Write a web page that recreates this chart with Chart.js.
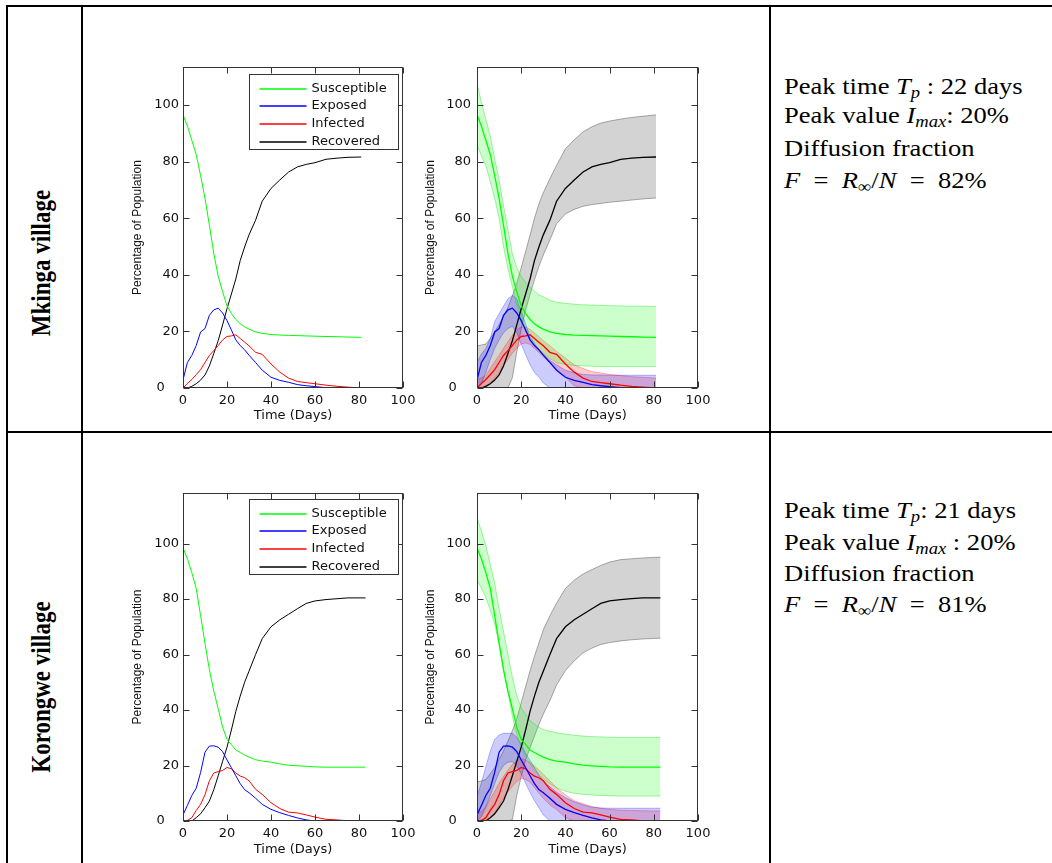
<!DOCTYPE html>
<html>
<head>
<meta charset="utf-8">
<script src="https://cdn.jsdelivr.net/npm/chart.js@4.4.1/dist/chart.umd.min.js"></script>
<style>
  body { margin: 0; background: #fff; width: 1052px; height: 863px; overflow: hidden; position: relative; }
  .ln { position: absolute; background: #000; }
  canvas { position: absolute; }
  .vlab { position: absolute; font: bold 23px "Liberation Serif", serif; white-space: nowrap; line-height: 1;
          transform: translate(-50%, -50%) rotate(-90deg) scaleY(1.16); }
  .txt { position: absolute; left: 784px; font: 22.5px "Liberation Serif", serif; white-space: nowrap; line-height: 1;
         transform: scaleX(1.18); transform-origin: 0 0; }
  .txt sub { font-size: 70%; vertical-align: -0.25em; line-height: 0; }
</style>
</head>
<body>
<div class="ln" style="left:6px;top:5px;width:1046px;height:2px"></div>
<div class="ln" style="left:6px;top:431px;width:1046px;height:2px"></div>
<div class="ln" style="left:6px;top:5px;width:2px;height:858px"></div>
<div class="ln" style="left:81px;top:5px;width:2px;height:858px"></div>
<div class="ln" style="left:769px;top:5px;width:2px;height:858px"></div>

<div class="vlab" style="left:40.5px;top:262.5px">Mkinga village</div>
<div class="vlab" style="left:40.5px;top:687px">Korongwe village</div>

<div class="txt" style="top:76px">Peak time <i>T<sub>p</sub></i> : 22 days</div>
<div class="txt" style="top:105px">Peak value <i>I<sub>max</sub></i>: 20%</div>
<div class="txt" style="top:138px">Diffusion fraction</div>
<div class="txt" style="top:170px"><i>F</i>&ensp;=&ensp;<i>R</i><sub>∞</sub>/<i>N</i>&ensp;=&ensp;82%</div>

<div class="txt" style="top:500px">Peak time <i>T<sub>p</sub></i>: 21 days</div>
<div class="txt" style="top:532px">Peak value <i>I<sub>max</sub></i> : 20%</div>
<div class="txt" style="top:563px">Diffusion fraction</div>
<div class="txt" style="top:594px"><i>F</i>&ensp;=&ensp;<i>R</i><sub>∞</sub>/<i>N</i>&ensp;=&ensp;81%</div>

<canvas id="c1" width="300" height="363" style="left:120px;top:60px"></canvas>
<canvas id="c2" width="300" height="363" style="left:415px;top:60px"></canvas>
<canvas id="c3" width="300" height="377" style="left:120px;top:480px"></canvas>
<canvas id="c4" width="300" height="377" style="left:415px;top:480px"></canvas>

<script>
// Mkinga village (days 0..81)
const timeMk = [0, 2, 4, 6, 8, 10, 12, 14, 16, 18, 20, 22, 24, 26, 28, 30, 33, 36, 40, 44, 48, 52, 56, 60, 65, 70, 75, 81];
const susMk = [96.5, 92.5, 87.5, 82.5, 75, 67, 57.5, 47.5, 39.5, 34, 29, 26.3, 24.2, 22.7, 21.6, 20.8, 19.8, 19.3, 18.9, 18.7, 18.6, 18.5, 18.4, 18.3, 18.2, 18.1, 18, 17.9];
const expMk = [2.9, 9, 11.5, 15, 19.8, 21, 25.7, 27.6, 28.2, 26.5, 23.8, 20.5, 17, 15, 13.5, 11.6, 9, 6.3, 3.8, 2.7, 2, 1.2, 0.8, 0.5, 0.1, 0, 0, 0];
const infMk = [0, 1.6, 3, 4.7, 6.5, 9, 11.5, 13.2, 15, 17, 18.2, 18.4, 18.8, 17.5, 16.2, 14.9, 12.6, 11.9, 8.5, 5.6, 3.5, 2.3, 1.9, 1.5, 1, 0.6, 0.3, 0];
const recMk = [0, 0, 0.6, 1.5, 2.8, 4.6, 7.8, 12.2, 16.7, 22.3, 28, 33.2, 38.5, 45, 49.8, 54.1, 59.3, 66, 70.5, 73.5, 76.3, 78.1, 79, 79.6, 80.8, 81.2, 81.5, 81.6];
const susMkHi = [107.6, 101, 95, 89, 81, 73.5, 64.5, 56, 47.3, 42.5, 39.4, 37.3, 35.6, 34.2, 32.9, 32.2, 31, 30.3, 29.9, 29.6, 29.4, 29.3, 29.2, 29.1, 29, 28.9, 28.9, 28.8];
const susMkLo = [85.9, 82, 78.5, 73, 67, 60, 50, 42, 36, 29.2, 24.5, 20.2, 17, 15.2, 13.5, 12.2, 10.4, 9, 8.3, 8, 7.8, 7.7, 7.6, 7.6, 7.6, 7.6, 7.6, 7.6];
const expMkHi = [9, 12, 14, 17.5, 23.5, 26.2, 29, 31.5, 32.7, 31.5, 27, 22.7, 18, 15.8, 13.5, 12, 9.7, 8.2, 6.3, 5.4, 4.8, 4.6, 4.6, 4.5, 4.5, 4.5, 4.5, 4.5];
const expMkLo = [0, 1.5, 5.5, 10, 14, 17, 19.5, 21, 21.8, 19.5, 15.5, 11.8, 8.2, 5.5, 3.8, 1.8, 0, 0, 0, 0, 0, 0, 0, 0, 0, 0, 0, 0];
const infMkHi = [3, 3.6, 4.4, 7, 9.3, 11.5, 14, 16.3, 18.6, 20.6, 21.6, 21.6, 20.7, 19.5, 18.1, 16.7, 14.9, 13, 10.6, 8.2, 6.9, 5.8, 5.3, 4.8, 4.4, 4, 3.8, 3.5];
const infMkLo = [0, 0.3, 0.8, 1.8, 3.4, 5.5, 8.1, 10, 12.3, 14, 15.6, 15.9, 15.4, 14, 12.5, 11, 8.9, 6.6, 3.8, 0.8, 0, 0, 0, 0, 0, 0, 0, 0];
const recMkHi = [14.9, 15.2, 15.5, 17.5, 19.8, 22.5, 25.2, 28.5, 32.5, 37, 42.5, 48.2, 54, 60, 65, 69, 74, 78.6, 84.5, 87.7, 90.5, 92.3, 93.6, 94.3, 95, 95.6, 96, 96.5];
const recMkLo = [0, 0, 0, 0, 0, 0, 0, 0, 3.6, 12.7, 20.9, 27.5, 33, 38.2, 42.9, 47, 52.3, 58, 61.5, 63.1, 64.2, 64.8, 65.2, 65.6, 66, 66.4, 66.8, 67.1];

// Korongwe village (days 0..83)
const timeKo = [0, 2, 4, 6, 8, 10, 12, 14, 16, 18, 20, 22, 24, 26, 28, 30, 33, 36, 40, 44, 48, 52, 56, 60, 65, 70, 75, 83];
const susKo = [98.4, 94.5, 89.5, 83.8, 74, 64, 54.5, 46.8, 40.5, 33.8, 29.4, 27.5, 25.6, 24.7, 23.8, 23, 22.1, 21.6, 21.2, 20.6, 20.1, 19.9, 19.7, 19.5, 19.4, 19.4, 19.4, 19.4];
const expKo = [2.2, 5.6, 9.2, 11.8, 17.5, 24.8, 27, 27.1, 26.6, 25, 22, 19.2, 16.3, 13.5, 11.3, 10.2, 8.2, 6, 4.2, 3, 2, 1.1, 0.4, 0, 0, 0, 0, 0];
const infKo = [0, 0.2, 1.2, 3.8, 6, 9.5, 14.5, 17.3, 17.8, 18.2, 19.3, 18.8, 17.3, 16.2, 15.6, 14.5, 11.4, 9.6, 6.6, 4.5, 3.2, 2.9, 2.2, 1.4, 0.6, 0.4, 0, 0];
const recKo = [0, 0, 0, 1.2, 2.6, 4.8, 7.2, 11.3, 16.3, 21.5, 26.6, 32.8, 39.5, 45, 50, 54, 60, 65.7, 70, 72.5, 74.5, 76.5, 78.4, 79.3, 79.8, 80.1, 80.4, 80.4];
const susKoHi = [109.3, 104.5, 99.2, 92.6, 85.6, 76.5, 68.2, 60, 51.8, 45.2, 40.8, 38.3, 36.2, 34.9, 33.8, 33, 32.3, 31.8, 31.3, 30.9, 30.6, 30.4, 30.3, 30.2, 30.1, 30.1, 30.1, 30.1];
const susKoLo = [87, 83.8, 80.6, 76, 71, 63.6, 54.5, 46.3, 37.8, 31.3, 26.7, 23.2, 20.6, 18.3, 16.5, 15.2, 13.4, 12, 10.7, 10, 9.6, 9.4, 9.2, 9.1, 9, 9, 9, 9];
const expKoHi = [8.8, 13.8, 19.5, 25.2, 29.4, 31, 31.6, 31.6, 31.6, 30.2, 27.6, 24.4, 21.9, 19.3, 16.6, 14.3, 12.3, 10.4, 8.4, 6.9, 5.8, 5, 4.7, 4.6, 4.6, 4.6, 4.6, 4.6];
const expKoLo = [0, 1.5, 5, 9.2, 13.5, 17.5, 20, 21.2, 21.4, 19.8, 17, 13.6, 10.3, 7.3, 4.8, 2.2, 0, 0, 0, 0, 0, 0, 0, 0, 0, 0, 0, 0];
const infKoHi = [2.8, 3.5, 5, 8, 10.8, 13.6, 16, 18.3, 20.4, 21.7, 22.5, 22, 21, 19.8, 18.4, 16.8, 14.5, 12, 9.4, 7.3, 6.2, 5.2, 4.6, 4.2, 3.9, 3.8, 3.7, 3.6];
const infKoLo = [0, 0, 0.4, 1, 2.8, 5.6, 8.4, 10.5, 12.5, 14.2, 15.4, 15, 14, 12, 10, 8.2, 5.8, 4.1, 1.2, 0, 0, 0, 0, 0, 0, 0, 0, 0];
const recKoHi = [14.2, 14.4, 15, 17, 19.2, 22.2, 25.3, 28.8, 32.5, 36.8, 42.6, 48.4, 54.1, 59.4, 64.1, 68.9, 74, 78.5, 83.8, 86.8, 89, 90.6, 92.1, 93.3, 94.2, 94.5, 94.8, 95.1];
const recKoLo = [0, 0, 0, 0, 0, 0, 0, 0, 0.5, 9.2, 16, 22, 26.4, 30.6, 34.8, 38.5, 43.4, 49, 54.2, 57.7, 60.6, 62.3, 63.6, 64.3, 64.9, 65.3, 65.6, 65.9];

const xTicks = [0, 20, 40, 60, 80, 100];
const names = ['Susceptible', 'Exposed', 'Infected', 'Recovered'];
const lineColors = ['#00ff00', '#0000ff', '#ff0000', '#000000'];
const bandFill = ['rgba(0,255,0,0.2)', 'rgba(0,0,255,0.2)', 'rgba(255,0,0,0.2)', 'rgba(120,120,120,0.33)'];
const bandEdge = ['rgba(0,220,0,0.45)', 'rgba(0,0,255,0.35)', 'rgba(255,0,0,0.35)', 'rgba(70,70,70,0.55)'];

Chart.defaults.font.family = 'DejaVu Sans';
const tickFont = { family: 'DejaVu Sans', size: 13 };

function pts(t, v) {
  return t.map((x, i) => ({ x: x, y: v[i] }));
}

// frame box with inward ticks on all four sides
const framePlugin = {
  id: 'frame',
  afterDatasetsDraw(chart) {
    const { ctx, chartArea: a, scales: { x, y } } = chart;
    const L = Math.round(a.left) + 0.5, R = Math.round(a.right) - 0.5;
    const T = Math.round(a.top) + 0.5, B = Math.round(a.bottom) - 0.5;
    ctx.save();
    ctx.strokeStyle = '#333';
    ctx.lineWidth = 1;
    ctx.strokeRect(L, T, R - L, B - T);
    ctx.beginPath();
    x.ticks.forEach(t => {
      const px = Math.round(x.getPixelForValue(t.value)) + 0.5;
      ctx.moveTo(px, B); ctx.lineTo(px, B - 6);
      ctx.moveTo(px, T); ctx.lineTo(px, T + 6);
    });
    y.ticks.forEach(t => {
      const py = Math.round(y.getPixelForValue(t.value)) + 0.5;
      ctx.moveTo(L, py); ctx.lineTo(L + 6, py);
      ctx.moveTo(R, py); ctx.lineTo(R - 6, py);
    });
    ctx.stroke();
    ctx.restore();
  }
};

const boxLegend = {
  id: 'boxLegend',
  afterDraw(chart, args, opts) {
    if (!opts.show) return;
    const { ctx, chartArea: a } = chart;
    const w = 149, h = 75;
    const bx = Math.round(a.right - 5 - w) + 0.5, by = Math.round(a.top + opts.dy) + 0.5;
    ctx.save();
    ctx.fillStyle = '#fff';
    ctx.fillRect(bx, by, w, h);
    ctx.strokeStyle = '#333';
    ctx.lineWidth = 1;
    ctx.strokeRect(bx, by, w, h);
    ctx.font = '13px "DejaVu Sans"';
    ctx.textBaseline = 'middle';
    names.forEach((n, i) => {
      const ry = Math.round(by + 14 + i * 17.8);
      ctx.strokeStyle = lineColors[i];
      ctx.lineWidth = 1.6;
      ctx.beginPath();
      ctx.moveTo(bx + 10, ry); ctx.lineTo(bx + 57, ry);
      ctx.stroke();
      ctx.fillStyle = '#111';
      ctx.fillText(n, bx + 62, ry);
    });
    ctx.restore();
  }
};

function makeChart(id, g) {
  const datasets = [];
  g.means.forEach((v, i) => {
    datasets.push({ label: names[i], data: pts(g.time, v), borderColor: lineColors[i], borderWidth: g.lineW,
      pointRadius: 0, fill: false, tension: 0, order: 0 });
  });
  if (g.bands) {
    g.bands.forEach((b, i) => {
      datasets.push({ label: names[i] + ' low', data: pts(g.time, b[0]), borderColor: bandEdge[i], borderWidth: 0.8,
        pointRadius: 0, fill: false, tension: 0, order: 1 });
      datasets.push({ label: names[i] + ' high', data: pts(g.time, b[1]), borderColor: bandEdge[i], borderWidth: 0.8,
        backgroundColor: bandFill[i], pointRadius: 0, fill: '-1', tension: 0, order: 1 });
    });
  }
  return new Chart(document.getElementById(id), {
    type: 'line',
    data: { datasets: datasets },
    plugins: [framePlugin, boxLegend],
    options: {
      responsive: false,
      animation: false,
      events: [],
      layout: { padding: { left: g.padL, right: 17, top: g.padT, bottom: 0 } },
      plugins: {
        legend: { display: false },
        tooltip: { enabled: false },
        boxLegend: { show: g.legend, dy: g.legendDy }
      },
      scales: {
        x: {
          type: 'linear', min: 0, max: 100,
          grid: { display: false, drawTicks: false },
          border: { display: false },
          afterBuildTicks: s => { s.ticks = xTicks.map(v => ({ value: v })); },
          ticks: { padding: 5, color: '#111', font: tickFont, maxRotation: 0 },
          title: { display: true, text: 'Time (Days)', color: '#111', font: tickFont, padding: 0 },
          afterFit: s => { s.height = g.xH; s.paddingLeft = 0; s.paddingRight = 0; }
        },
        y: {
          min: 0, max: g.yMax,
          grid: { display: false, drawTicks: false },
          border: { display: false },
          ticks: { stepSize: 20, includeBounds: false, padding: g.yPad, color: '#111', font: tickFont,
            callback: v => v === 0 ? '0\u2003\u200a' : v },
          title: { display: true, text: 'Percentage of Population', color: '#111',
            font: { family: 'Liberation Sans', size: 12 }, padding: 0 },
          afterFit: s => { s.width = g.yW; s.paddingTop = 0; s.paddingBottom = 0; }
        }
      }
    }
  });
}

makeChart('c1', { time: timeMk, means: [susMk, expMk, infMk, recMk], lineW: 1,
  padL: 10, yW: 53, padT: 7, xH: 35, yMax: 113.4, yPad: 4, legend: true, legendDy: 7 });
makeChart('c2', { time: timeMk, means: [susMk, expMk, infMk, recMk], lineW: 1.3,
  bands: [[susMkLo, susMkHi], [expMkLo, expMkHi], [infMkLo, infMkHi], [recMkLo, recMkHi]],
  padL: 8, yW: 54, padT: 7, xH: 35, yMax: 113.4, yPad: 6, legend: false });
makeChart('c3', { time: timeKo, means: [susKo, expKo, infKo, recKo], lineW: 1,
  padL: 10, yW: 53, padT: 13, xH: 36, yMax: 118.2, yPad: 4, legend: true, legendDy: 6 });
makeChart('c4', { time: timeKo, means: [susKo, expKo, infKo, recKo], lineW: 1.3,
  bands: [[susKoLo, susKoHi], [expKoLo, expKoHi], [infKoLo, infKoHi], [recKoLo, recKoHi]],
  padL: 8, yW: 54, padT: 13, xH: 36, yMax: 118.2, yPad: 6, legend: false });
</script>
</body>
</html>
